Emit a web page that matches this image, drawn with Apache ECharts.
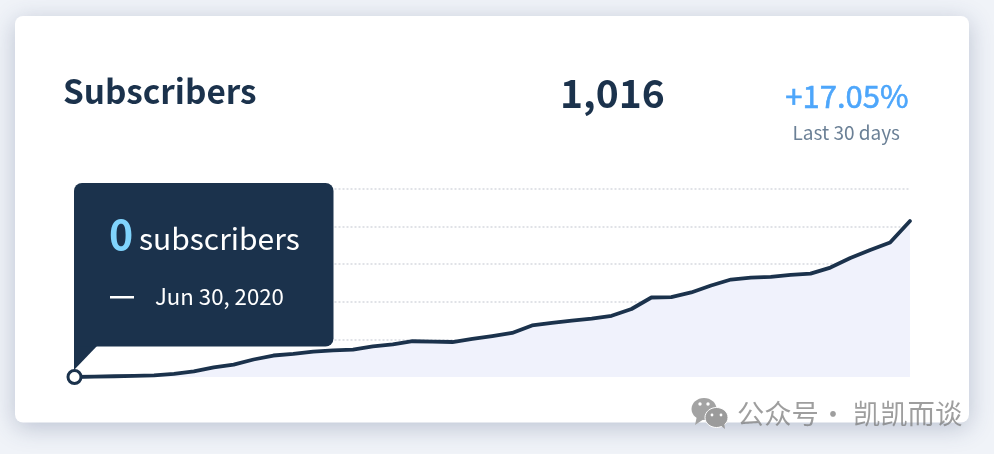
<!DOCTYPE html>
<html><head><meta charset="utf-8">
<style>html,body{margin:0;padding:0;background:#f0f3f8}#c{width:994px;height:454px}</style>
<script src="https://cdn.jsdelivr.net/npm/echarts@6/dist/echarts.min.js"></script>
</head><body><div id="c"></div>
<script>
const categories = ['Jun 30','Jul 1','Jul 2','Jul 3','Jul 4','Jul 5','Jul 6','Jul 7','Jul 8','Jul 9','Jul 10','Jul 11','Jul 12','Jul 13','Jul 14','Jul 15','Jul 16','Jul 17','Jul 18','Jul 19','Jul 20','Jul 21','Jul 22','Jul 23','Jul 24','Jul 25','Jul 26','Jul 27','Jul 28','Jul 29','Jul 30','Jul 31','Aug 1','Aug 2','Aug 3','Aug 4','Aug 5','Aug 6','Aug 7','Aug 8','Aug 9','Aug 10','Aug 11'];
const subscribers = [0,2,5,7,10,21,36,62,81,114,140,150,166,174,179,199,212,233,231,228,248,267,287,336,352,368,381,399,443,518,521,551,596,635,648,652,665,674,713,775,828,876,1016];
const FONT = '"Noto Sans CJK SC","Noto Sans",sans-serif';
const NAVY = '#1b324c';
const WM = 'rgba(120,120,120,0.72)';
const chart = echarts.init(document.getElementById('c'), null, {renderer:'canvas'});
const txt = (x,y,text,fontSize,fill,fontWeight,extra) => ({type:'text',x,y,z:100,style:Object.assign({text,fontSize,fill,fontFamily:FONT,fontWeight:fontWeight||400,textVerticalAlign:'middle'},extra||{})});
chart.setOption({
  animation:false,
  backgroundColor:'#f0f3f8',
  grid:{left:74.5,right:84,top:189,bottom:77,containLabel:false},
  xAxis:{type:'category',data:categories,boundaryGap:false,show:false},
  yAxis:{type:'value',min:0,max:1225,interval:245,
    axisLine:{show:false},axisTick:{show:false},axisLabel:{show:false},
    splitLine:{show:true,showMinLine:false,lineStyle:{color:'#d6d9e0',width:1.5,type:[2,2]}}},
  series:[{type:'line',data:subscribers,smooth:false,clip:false,
    showAllSymbol:true,
    symbol:(v,p)=>p.dataIndex===0?'circle':'none',
    symbolSize:13,
    itemStyle:{color:'#ffffff',borderColor:NAVY,borderWidth:3},
    lineStyle:{color:NAVY,width:3.8,cap:'round',join:'round'},
    areaStyle:{color:'#f0f2fc',opacity:1},z:5}],
  graphic:{elements:[
    {type:'rect',z:-10,shape:{x:15,y:16,width:954,height:406.5,r:8},
      style:{fill:'#fff',shadowBlur:24,shadowColor:'rgba(50,70,110,0.28)',shadowOffsetY:5}},
    txt(63,91,'Subscribers',33.3,NAVY,600),
    txt(560,93,'1,016',39,NAVY,700),
    txt(908.5,96,'+17.05%',31,'#4da6fb',400,{textAlign:'right',stroke:'#4da6fb',lineWidth:0.6}),
    txt(900,133,'Last 30 days',19,'#6b8096',400,{textAlign:'right'}),
    {type:'polygon',z:90,shape:{points:[[74,345],[98,345],[74,370]]},style:{fill:NAVY}},
    {type:'rect',z:90,shape:{x:74,y:183,width:259.5,height:163.5,r:[8,8,8,0]},style:{fill:NAVY}},
    txt(109,234,'0',41,'#80d4fd',600),
    txt(139,239,'subscribers',30,'#ffffff',400),
    {type:'rect',z:100,shape:{x:110,y:296,width:24,height:2.5},style:{fill:'#fff'}},
    txt(155,297,'Jun 30, 2020',22.2,'#ffffff',400),
    {type:'ellipse',z:110,shape:{cx:704,cy:409,rx:12.5,ry:11},style:{fill:'#a3a3a3'}},
    {type:'polygon',z:110,shape:{points:[[697,416],[695,425],[704,419]]},style:{fill:'#a3a3a3'}},
    {type:'ellipse',z:111,shape:{cx:716.5,cy:417.5,rx:11.5,ry:10},style:{fill:'#9b9b9b',stroke:'#fff',lineWidth:1}},
    {type:'polygon',z:111,shape:{points:[[720,425],[725,429],[724,422]]},style:{fill:'#9b9b9b'}},
    {type:'circle',z:112,shape:{cx:700,cy:404,r:1.7},style:{fill:'#fff'}},
    {type:'circle',z:112,shape:{cx:708,cy:404,r:1.7},style:{fill:'#fff'}},
    {type:'circle',z:112,shape:{cx:712,cy:415,r:1.4},style:{fill:'#fff'}},
    {type:'circle',z:112,shape:{cx:721,cy:415,r:1.4},style:{fill:'#fff'}},
    txt(737,414,'公众号',27.3,WM,400),
    txt(833,414,'·',27,WM,400,{textAlign:'center'}),
    txt(853,414,'凯凯而谈',27.3,WM,400)
  ]}
});
</script></body></html>
